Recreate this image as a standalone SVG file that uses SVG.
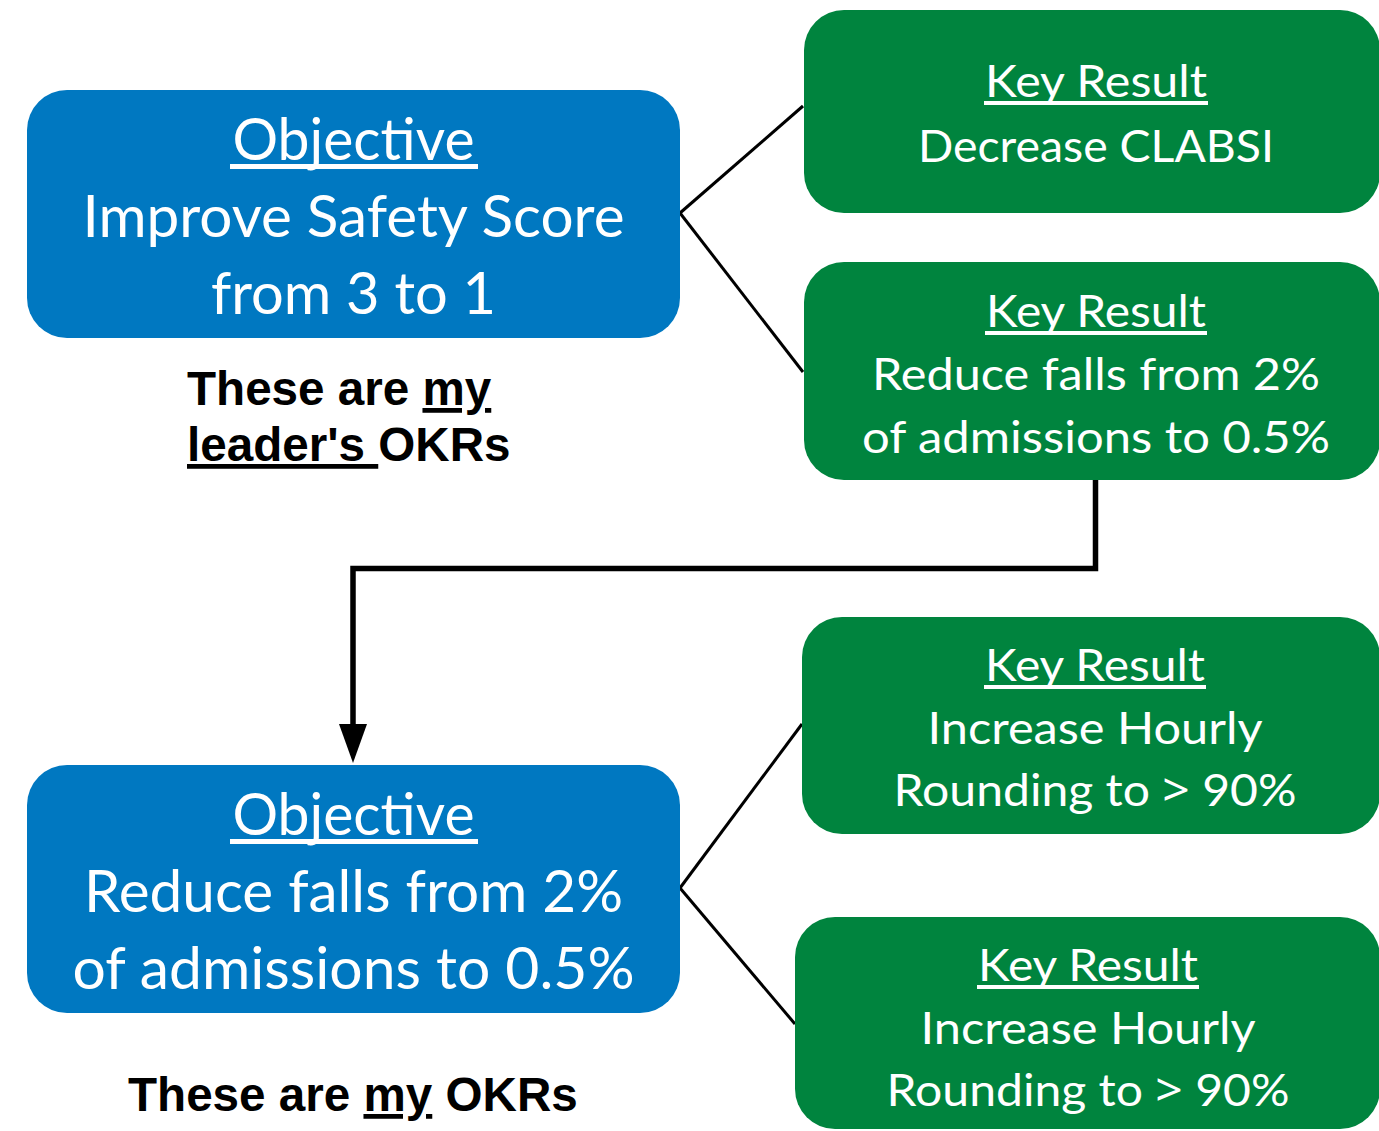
<svg xmlns="http://www.w3.org/2000/svg" width="1379" height="1131" viewBox="0 0 1379 1131">
  <defs>
    <style>
      .obj { fill: #0078c1; }
      .kr { fill: #00843e; }
      .wt { font-family: Lato, "Open Sans", "Liberation Sans", sans-serif; fill: #ffffff; text-anchor: middle; }
      .big { font-size: 58.5px; }
      .mid { font-size: 45px; }
      .gt { font-family: "Noto Sans", "Open Sans", sans-serif; }
      .uline { fill: #ffffff; }
      .ul { text-decoration: underline; }
      .note { font-family: "Liberation Sans", Arial, sans-serif; font-weight: bold; font-size: 47.6px; fill: #000000; }
      .thin { fill: none; stroke: #000000; stroke-width: 3; }
      .thick { fill: none; stroke: #000000; stroke-width: 5.5; stroke-linejoin: miter; }
    </style>
  </defs>

  <rect width="1379" height="1131" fill="#ffffff"/>

  <!-- connectors -->
  <g id="connectors">
    <path class="thin" d="M680,213 L803,106"/>
    <path class="thin" d="M680,213 L803,372"/>
    <path class="thin" d="M680,888 L802,724"/>
    <path class="thin" d="M680,888 L795,1024"/>
    <path class="thick" d="M1095.5,480 L1095.5,568.5 L353,568.5 L353,724"/>
    <path d="M339,724 L367,724 L353,763 Z" fill="#000000"/>
  </g>

  <!-- leader objective -->
  <g id="objective-leader">
    <rect class="obj" x="27" y="90" width="653" height="248" rx="40" ry="40"/>
    <text class="wt big" x="353.5" y="160" textLength="242" lengthAdjust="spacingAndGlyphs">Objective</text>
    <rect class="uline" x="230" y="164" width="248" height="5"/>
    <text class="wt big" x="353.5" y="237" textLength="542" lengthAdjust="spacingAndGlyphs">Improve Safety Score</text>
    <text class="wt big" x="353.5" y="314" textLength="285" lengthAdjust="spacingAndGlyphs">from 3 to 1</text>
  </g>

  <g id="kr-clabsi">
    <rect class="kr" x="804" y="10" width="576" height="203" rx="40" ry="40"/>
    <text class="wt mid" x="1096" y="97" textLength="222" lengthAdjust="spacingAndGlyphs">Key Result</text>
    <rect class="uline" x="984" y="101" width="224" height="4"/>
    <text class="wt mid" x="1096" y="162" textLength="356" lengthAdjust="spacingAndGlyphs">Decrease CLABSI</text>
  </g>

  <g id="kr-falls">
    <rect class="kr" x="804" y="262" width="576" height="218" rx="40" ry="40"/>
    <text class="wt mid" x="1096" y="327" textLength="220" lengthAdjust="spacingAndGlyphs">Key Result</text>
    <rect class="uline" x="985" y="331" width="222" height="4"/>
    <text class="wt mid" x="1096" y="390" textLength="448" lengthAdjust="spacingAndGlyphs">Reduce falls from 2%</text>
    <text class="wt mid" x="1096" y="453" textLength="468" lengthAdjust="spacingAndGlyphs">of admissions to 0.5%</text>
  </g>

  <g id="label-leader">
    <text class="note" x="187" y="405">These are <tspan class="ul">my</tspan></text>
    <text class="note" x="187" y="461"><tspan class="ul">leader's </tspan>OKRs</text>
  </g>

  <!-- my objective -->
  <g id="objective-mine">
    <rect class="obj" x="27" y="765" width="653" height="248" rx="40" ry="40"/>
    <text class="wt big" x="353.5" y="835" textLength="242" lengthAdjust="spacingAndGlyphs">Objective</text>
    <rect class="uline" x="230" y="839" width="248" height="5"/>
    <text class="wt big" x="353.5" y="912" textLength="539" lengthAdjust="spacingAndGlyphs">Reduce falls from 2%</text>
    <text class="wt big" x="353.5" y="989" textLength="562" lengthAdjust="spacingAndGlyphs">of admissions to 0.5%</text>
  </g>

  <g id="kr-rounding-1">
    <rect class="kr" x="802" y="617" width="578" height="217" rx="40" ry="40"/>
    <text class="wt mid" x="1095" y="681" textLength="220" lengthAdjust="spacingAndGlyphs">Key Result</text>
    <rect class="uline" x="984" y="685" width="222" height="4"/>
    <text class="wt mid" x="1095" y="744" textLength="335" lengthAdjust="spacingAndGlyphs">Increase Hourly</text>
    <text class="wt mid" x="1095" y="806" textLength="403" lengthAdjust="spacingAndGlyphs">Rounding to <tspan class="gt">&gt;</tspan> 90%</text>
  </g>

  <g id="kr-rounding-2">
    <rect class="kr" x="795" y="917" width="585" height="212" rx="40" ry="40"/>
    <text class="wt mid" x="1088" y="981" textLength="220" lengthAdjust="spacingAndGlyphs">Key Result</text>
    <rect class="uline" x="977" y="985" width="222" height="4"/>
    <text class="wt mid" x="1088" y="1044" textLength="335" lengthAdjust="spacingAndGlyphs">Increase Hourly</text>
    <text class="wt mid" x="1088" y="1106" textLength="403" lengthAdjust="spacingAndGlyphs">Rounding to <tspan class="gt">&gt;</tspan> 90%</text>
  </g>

  <g id="label-mine">
    <text class="note" x="128" y="1111">These are <tspan class="ul">my</tspan> OKRs</text>
  </g>
</svg>
